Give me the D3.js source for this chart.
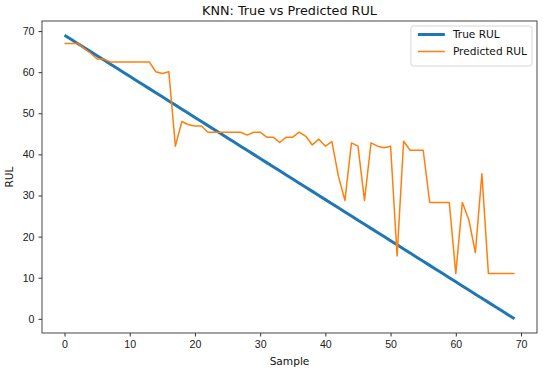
<!DOCTYPE html>
<html lang="en">
<head>
<meta charset="UTF-8">
<title>KNN: True vs Predicted RUL</title>
<script src="https://d3js.org/d3.v7.min.js"></script>
<style>
  body { margin: 0; background: #fff; font-family: "DejaVu Sans", sans-serif; }
  .tick text { font-size: 10.6px; fill: #222; }
  .tick line { stroke: #333; }
</style>
</head>
<body>
<svg id="chart"></svg>
<script>
const width = 550, height = 373;
const margin = {top: 21, right: 13, bottom: 40, left: 42};

const samples = d3.range(0, 70);
const trueRul = samples.map(i => 69 - i);
const predictedRul = [
  67.0, 67.0, 67.0, 65.8, 64.6, 63.2, 63.2, 62.5, 62.5, 62.5,
  62.5, 62.5, 62.5, 62.5, 60.1, 59.7, 60.1, 42.0, 48.0, 47.2,
  46.9, 46.9, 45.4, 45.4, 45.4, 45.4, 45.4, 45.4, 44.7, 45.4,
  45.4, 44.2, 44.2, 42.9, 44.2, 44.2, 45.4, 44.4, 42.3, 43.7,
  42.0, 43.1, 34.7, 28.8, 42.8, 42.0, 28.8, 42.8, 42.0, 41.6,
  42.0, 15.3, 43.2, 41.0, 41.0, 41.0, 28.3, 28.3, 28.3, 28.3,
  11.0, 28.3, 24.1, 16.1, 35.3, 11.0, 11.0, 11.0, 11.0, 11.0
];
const xTicks = [0, 10, 20, 30, 40, 50, 60, 70];
const yTicks = [0, 10, 20, 30, 40, 50, 60, 70];

const svg = d3.select("#chart").attr("width", width).attr("height", height);

// matplotlib-like 5% margins
const x = d3.scaleLinear().domain([-3.45, 72.45]).range([margin.left, width - margin.right]);
const y = d3.scaleLinear().domain([-3.45, 72.45]).range([height - margin.bottom, margin.top]);

svg.append("g")
  .attr("transform", `translate(0,${height - margin.bottom})`)
  .call(d3.axisBottom(x).tickValues(xTicks).tickSize(3.5).tickPadding(4).tickSizeOuter(0))
  .call(g => g.select(".domain").remove());

svg.append("g")
  .attr("transform", `translate(${margin.left},0)`)
  .call(d3.axisLeft(y).tickValues(yTicks).tickSize(3.5).tickPadding(4).tickSizeOuter(0))
  .call(g => g.select(".domain").remove());

const line = d3.line().x((d, i) => x(samples[i])).y(d => y(d));

svg.append("path")
  .datum(trueRul)
  .attr("d", line)
  .attr("fill", "none")
  .attr("stroke", "#1f77b4")
  .attr("stroke-width", 3);

svg.append("path")
  .datum(predictedRul)
  .attr("d", line)
  .attr("fill", "none")
  .attr("stroke", "#ff7f0e")
  .attr("stroke-width", 1.5)
  .attr("stroke-linejoin", "round");

// frame
svg.append("rect")
  .attr("x", margin.left).attr("y", margin.top)
  .attr("width", width - margin.left - margin.right)
  .attr("height", height - margin.top - margin.bottom)
  .attr("fill", "none").attr("stroke", "#333").attr("stroke-width", 0.9);

const midX = (margin.left + width - margin.right) / 2;

svg.append("text")
  .attr("x", midX).attr("y", 15)
  .attr("text-anchor", "middle").attr("font-size", 12.8).attr("fill", "#111")
  .text("KNN: True vs Predicted RUL");

svg.append("text")
  .attr("x", midX).attr("y", 365)
  .attr("text-anchor", "middle").attr("font-size", 10.6).attr("fill", "#111")
  .text("Sample");

svg.append("text")
  .attr("transform", `translate(13,${(margin.top + height - margin.bottom) / 2}) rotate(-90)`)
  .attr("text-anchor", "middle").attr("font-size", 10.6).attr("fill", "#111")
  .text("RUL");

// legend, sized to its text and pinned to the upper right
const entries = [
  {label: "True RUL", color: "#1f77b4", w: 3},
  {label: "Predicted RUL", color: "#ff7f0e", w: 1.5}
];
const legend = svg.append("g");
const box = legend.append("rect")
  .attr("rx", 2.5)
  .attr("fill", "#fff").attr("fill-opacity", 0.8)
  .attr("stroke", "#ccc").attr("stroke-width", 0.8);

let maxW = 0;
entries.forEach((e, i) => {
  const cy = 8.5 + i * 17;
  legend.append("line")
    .attr("x1", 7).attr("x2", 34).attr("y1", cy).attr("y2", cy)
    .attr("stroke", e.color).attr("stroke-width", e.w);
  const t = legend.append("text")
    .attr("x", 42).attr("y", cy + 3.8)
    .attr("font-size", 10.6).attr("fill", "#111")
    .text(e.label);
  maxW = Math.max(maxW, t.node().getComputedTextLength());
});
const boxW = 42 + maxW + 5, boxH = 40;
box.attr("width", boxW).attr("height", boxH);
legend.attr("transform", `translate(${width - margin.right - 5 - boxW},${margin.top + 5})`);
</script>
</body>
</html>
